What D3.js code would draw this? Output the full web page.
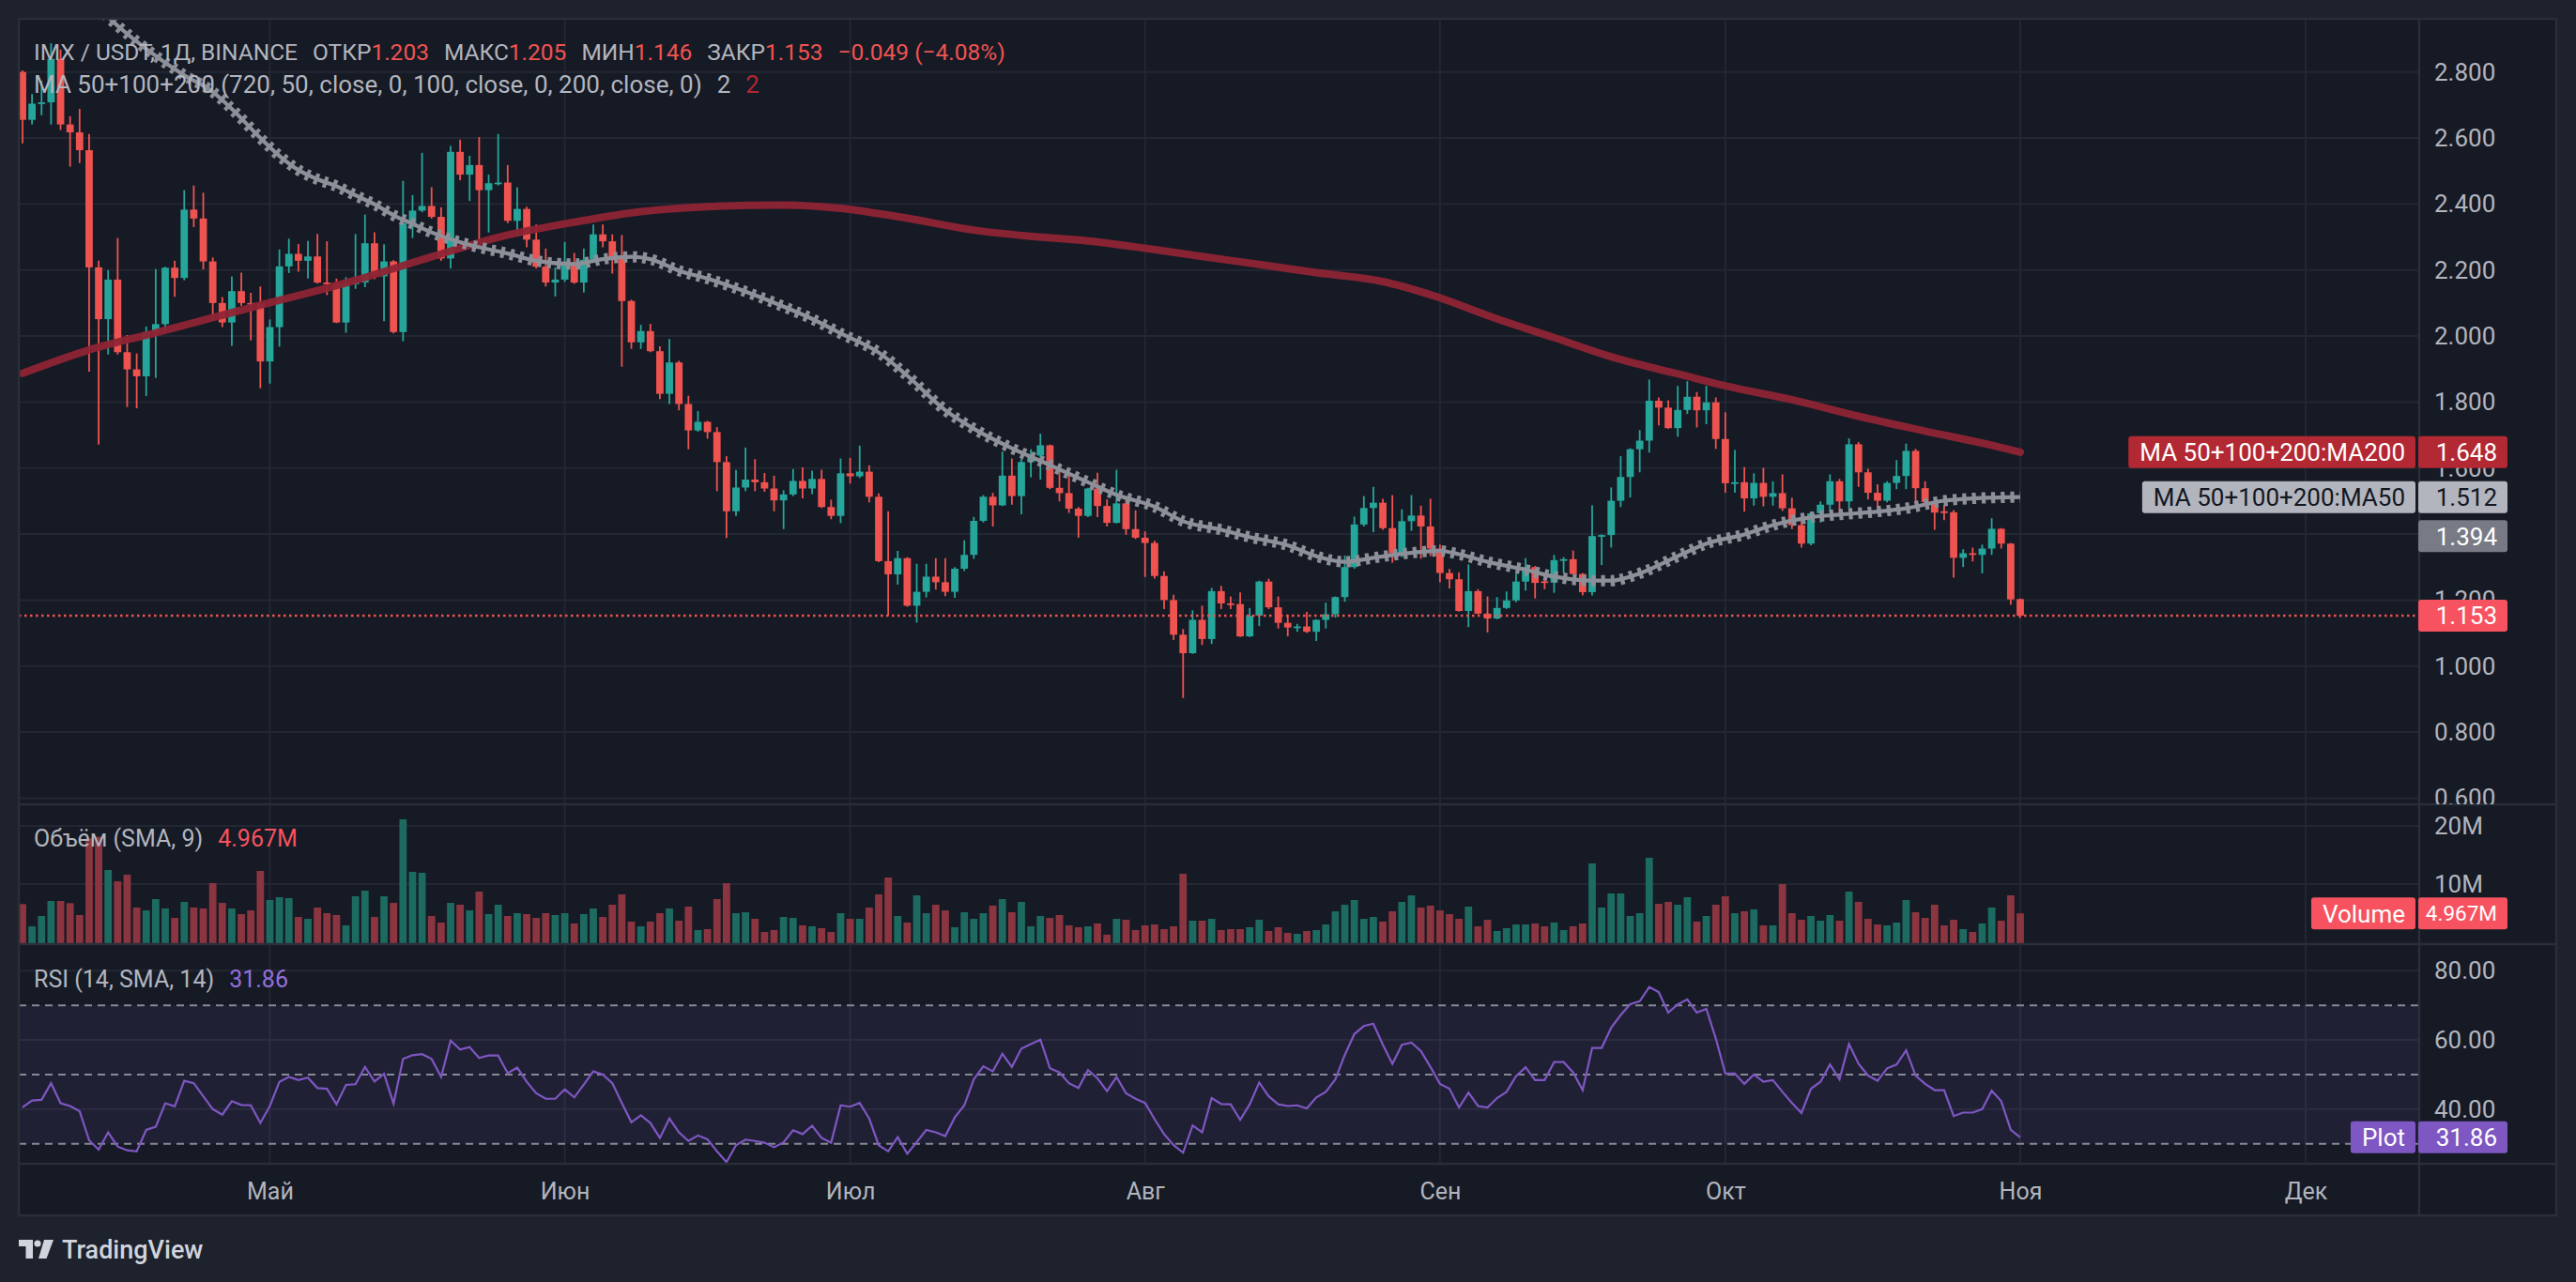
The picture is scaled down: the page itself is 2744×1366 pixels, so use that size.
<!DOCTYPE html>
<html>
<head>
<meta charset="utf-8">
<title>IMX / USDT, 1Д, BINANCE</title>
<script src="https://cdn.jsdelivr.net/npm/d3@7/dist/d3.min.js"></script>
<style>
  html, body { margin: 0; padding: 0; background: #1e222d; }
  svg { display: block; font-family: Roboto, "Noto Sans", sans-serif; }
</style>
</head>
<body>
<div id="chart"></div>
<script>
// daily candles from 5 Apr 2024 to 1 Nov 2024 (211 days)
const firstDay = new Date(Date.UTC(2024, 3, 5))

const opens = [
  2.800, 2.655, 2.704, 2.708, 2.840, 2.641, 2.617, 2.563, 2.208, 2.051,
  2.171, 1.951, 1.899, 1.878, 2.012, 2.036, 2.207, 2.176, 2.383, 2.356,
  2.226, 2.100, 2.041, 2.136, 2.100, 2.098, 1.923, 2.027, 2.211, 2.249,
  2.228, 2.241, 2.162, 2.159, 2.041, 2.157, 2.162, 2.281, 2.181, 2.226,
  2.012, 2.342, 2.380, 2.394, 2.361, 2.235, 2.558, 2.489, 2.518, 2.442,
  2.463, 2.465, 2.349, 2.385, 2.292, 2.210, 2.162, 2.171, 2.218, 2.162,
  2.231, 2.308, 2.287, 2.238, 2.106, 1.981, 2.015, 1.954, 1.825, 1.920,
  1.794, 1.714, 1.740, 1.709, 1.618, 1.469, 1.541, 1.565, 1.557, 1.538,
  1.502, 1.520, 1.561, 1.538, 1.567, 1.482, 1.455, 1.584, 1.575, 1.589,
  1.513, 1.318, 1.278, 1.327, 1.183, 1.225, 1.271, 1.254, 1.225, 1.295,
  1.337, 1.440, 1.513, 1.487, 1.577, 1.515, 1.618, 1.638, 1.669, 1.540,
  1.524, 1.477, 1.455, 1.538, 1.485, 1.434, 1.493, 1.415, 1.389, 1.373,
  1.273, 1.200, 1.095, 1.039, 1.140, 1.082, 1.227, 1.190, 1.188, 1.090,
  1.153, 1.256, 1.178, 1.131, 1.117, 1.120, 1.104, 1.140, 1.157, 1.209,
  1.300, 1.429, 1.479, 1.495, 1.418, 1.342, 1.439, 1.456, 1.423, 1.356,
  1.282, 1.263, 1.167, 1.227, 1.159, 1.144, 1.176, 1.199, 1.256, 1.300,
  1.257, 1.253, 1.321, 1.324, 1.279, 1.224, 1.394, 1.397, 1.501, 1.573,
  1.657, 1.683, 1.804, 1.783, 1.721, 1.776, 1.816, 1.775, 1.799, 1.688,
  1.554, 1.557, 1.508, 1.555, 1.513, 1.524, 1.478, 1.427, 1.371, 1.463,
  1.489, 1.560, 1.499, 1.672, 1.587, 1.525, 1.501, 1.555, 1.576, 1.652,
  1.539, 1.497, 1.469, 1.466, 1.328, 1.342, 1.337, 1.356, 1.416, 1.371, 1.203
]
const highs = [
  2.805, 2.733, 2.773, 2.887, 2.868, 2.666, 2.688, 2.612, 2.228, 2.200,
  2.297, 2.003, 1.947, 2.029, 2.203, 2.210, 2.228, 2.442, 2.456, 2.434,
  2.238, 2.118, 2.181, 2.192, 2.131, 2.150, 2.050, 2.262, 2.295, 2.279,
  2.288, 2.309, 2.287, 2.174, 2.178, 2.309, 2.368, 2.314, 2.278, 2.230,
  2.470, 2.427, 2.555, 2.451, 2.390, 2.576, 2.595, 2.546, 2.603, 2.489,
  2.612, 2.518, 2.451, 2.392, 2.338, 2.265, 2.208, 2.285, 2.252, 2.265,
  2.338, 2.338, 2.308, 2.306, 2.110, 2.034, 2.037, 1.969, 1.991, 1.925,
  1.819, 1.773, 1.743, 1.724, 1.636, 1.594, 1.662, 1.627, 1.585, 1.577,
  1.533, 1.597, 1.602, 1.592, 1.595, 1.504, 1.629, 1.631, 1.668, 1.608,
  1.523, 1.469, 1.349, 1.330, 1.310, 1.310, 1.327, 1.327, 1.300, 1.381,
  1.452, 1.518, 1.525, 1.650, 1.629, 1.629, 1.657, 1.704, 1.671, 1.602,
  1.586, 1.482, 1.540, 1.586, 1.505, 1.595, 1.515, 1.472, 1.408, 1.380,
  1.287, 1.216, 1.112, 1.169, 1.183, 1.237, 1.243, 1.211, 1.223, 1.176,
  1.259, 1.265, 1.211, 1.155, 1.128, 1.164, 1.142, 1.192, 1.211, 1.335,
  1.453, 1.515, 1.543, 1.507, 1.518, 1.475, 1.518, 1.486, 1.507, 1.368,
  1.294, 1.284, 1.308, 1.233, 1.211, 1.209, 1.226, 1.280, 1.327, 1.303,
  1.278, 1.337, 1.330, 1.350, 1.282, 1.487, 1.399, 1.541, 1.636, 1.660,
  1.715, 1.868, 1.814, 1.805, 1.849, 1.863, 1.830, 1.849, 1.814, 1.769,
  1.655, 1.603, 1.584, 1.601, 1.560, 1.581, 1.510, 1.448, 1.465, 1.499,
  1.581, 1.567, 1.690, 1.679, 1.598, 1.551, 1.560, 1.624, 1.674, 1.658,
  1.560, 1.508, 1.489, 1.473, 1.354, 1.359, 1.368, 1.448, 1.418, 1.373, 1.205
]
const lows = [
  2.584, 2.641, 2.669, 2.641, 2.624, 2.513, 2.524, 1.892, 1.671, 1.944,
  1.944, 1.785, 1.781, 1.818, 1.873, 2.013, 2.119, 2.169, 2.330, 2.202,
  2.048, 2.027, 1.970, 2.091, 1.987, 1.842, 1.856, 1.968, 2.191, 2.195,
  2.174, 2.159, 2.124, 2.039, 2.010, 2.143, 2.148, 2.172, 2.045, 2.008,
  1.984, 2.297, 2.375, 2.356, 2.228, 2.205, 2.472, 2.409, 2.288, 2.314,
  2.456, 2.342, 2.302, 2.269, 2.205, 2.150, 2.120, 2.164, 2.158, 2.132,
  2.225, 2.269, 2.189, 1.907, 1.961, 1.961, 1.951, 1.809, 1.794, 1.775,
  1.657, 1.710, 1.689, 1.530, 1.388, 1.455, 1.530, 1.530, 1.528, 1.469,
  1.415, 1.515, 1.508, 1.521, 1.479, 1.445, 1.433, 1.553, 1.570, 1.496,
  1.315, 1.153, 1.247, 1.180, 1.132, 1.208, 1.232, 1.212, 1.207, 1.288,
  1.325, 1.435, 1.423, 1.485, 1.489, 1.460, 1.572, 1.565, 1.536, 1.499,
  1.464, 1.389, 1.451, 1.451, 1.423, 1.432, 1.398, 1.385, 1.270, 1.265,
  1.173, 1.079, 0.903, 1.037, 1.064, 1.067, 1.173, 1.173, 1.088, 1.088,
  1.121, 1.173, 1.114, 1.090, 1.104, 1.100, 1.076, 1.114, 1.147, 1.195,
  1.295, 1.423, 1.406, 1.413, 1.313, 1.330, 1.410, 1.325, 1.333, 1.254,
  1.235, 1.165, 1.118, 1.157, 1.102, 1.142, 1.173, 1.193, 1.229, 1.205,
  1.233, 1.222, 1.281, 1.276, 1.214, 1.214, 1.306, 1.359, 1.482, 1.511,
  1.587, 1.647, 1.729, 1.719, 1.695, 1.764, 1.723, 1.733, 1.658, 1.525,
  1.525, 1.468, 1.486, 1.484, 1.486, 1.470, 1.415, 1.359, 1.366, 1.435,
  1.470, 1.461, 1.478, 1.543, 1.505, 1.464, 1.496, 1.536, 1.536, 1.487,
  1.486, 1.413, 1.442, 1.268, 1.300, 1.317, 1.281, 1.337, 1.356, 1.186, 1.146
]
const closes = [
  2.655, 2.704, 2.708, 2.840, 2.641, 2.617, 2.563, 2.208, 2.051, 2.171,
  1.951, 1.899, 1.878, 2.012, 2.036, 2.207, 2.176, 2.383, 2.356, 2.226,
  2.100, 2.041, 2.136, 2.100, 2.098, 1.923, 2.027, 2.211, 2.249, 2.228,
  2.241, 2.162, 2.159, 2.041, 2.157, 2.162, 2.281, 2.181, 2.226, 2.012,
  2.342, 2.380, 2.394, 2.361, 2.235, 2.558, 2.489, 2.518, 2.442, 2.463,
  2.465, 2.349, 2.385, 2.292, 2.210, 2.162, 2.171, 2.218, 2.162, 2.231,
  2.308, 2.287, 2.238, 2.106, 1.981, 2.015, 1.954, 1.825, 1.920, 1.794,
  1.714, 1.740, 1.709, 1.618, 1.469, 1.541, 1.565, 1.557, 1.538, 1.502,
  1.520, 1.561, 1.538, 1.567, 1.482, 1.455, 1.584, 1.575, 1.589, 1.513,
  1.318, 1.278, 1.327, 1.183, 1.225, 1.271, 1.254, 1.225, 1.295, 1.337,
  1.440, 1.513, 1.487, 1.577, 1.515, 1.618, 1.638, 1.669, 1.540, 1.524,
  1.477, 1.455, 1.538, 1.485, 1.434, 1.493, 1.415, 1.389, 1.373, 1.273,
  1.200, 1.095, 1.039, 1.140, 1.082, 1.227, 1.190, 1.188, 1.090, 1.153,
  1.256, 1.178, 1.131, 1.117, 1.120, 1.104, 1.140, 1.157, 1.209, 1.300,
  1.429, 1.479, 1.495, 1.418, 1.342, 1.439, 1.456, 1.423, 1.356, 1.282,
  1.263, 1.167, 1.227, 1.159, 1.144, 1.176, 1.199, 1.256, 1.300, 1.252,
  1.253, 1.321, 1.324, 1.279, 1.224, 1.394, 1.397, 1.501, 1.573, 1.657,
  1.683, 1.804, 1.783, 1.721, 1.776, 1.816, 1.775, 1.799, 1.688, 1.554,
  1.557, 1.508, 1.555, 1.513, 1.524, 1.478, 1.427, 1.371, 1.463, 1.489,
  1.560, 1.499, 1.672, 1.587, 1.525, 1.501, 1.555, 1.576, 1.652, 1.539,
  1.497, 1.465, 1.466, 1.328, 1.342, 1.337, 1.356, 1.416, 1.371, 1.202, 1.153
]

// volume, millions
const volumes = [
  6.56, 2.74, 4.52, 7.10, 7.10, 6.72, 4.68, 17.85, 18.12, 12.42,
  10.48, 11.61, 5.97, 5.48, 7.42, 5.81, 4.19, 6.94, 5.97, 5.81,
  10.16, 6.77, 5.81, 4.84, 5.48, 12.26, 7.26, 7.74, 7.58, 4.35,
  4.03, 5.97, 5.00, 4.68, 2.90, 7.90, 8.87, 4.35, 7.90, 6.77,
  21.13, 12.10, 11.94, 4.52, 3.39, 6.77, 6.45, 5.48, 8.71, 4.84,
  6.45, 4.52, 5.00, 4.84, 4.19, 5.00, 4.68, 5.00, 3.23, 4.84,
  5.81, 4.35, 6.45, 8.23, 3.55, 2.74, 3.55, 5.00, 5.81, 3.71,
  6.13, 2.10, 2.26, 7.42, 10.16, 5.00, 5.16, 4.03, 1.77, 2.10,
  4.35, 4.19, 2.90, 2.74, 2.42, 1.77, 5.00, 4.03, 4.03, 5.97,
  8.23, 11.13, 4.52, 3.39, 8.06, 5.00, 6.45, 5.48, 2.58, 5.16,
  4.03, 5.00, 6.29, 7.42, 5.16, 6.94, 2.74, 4.52, 4.19, 4.68,
  2.90, 2.58, 2.74, 3.23, 1.30, 4.03, 3.87, 2.10, 2.90, 3.06,
  2.26, 2.74, 11.77, 3.71, 3.71, 4.03, 2.10, 2.26, 2.26, 2.58,
  3.87, 1.94, 2.58, 1.61, 1.45, 1.94, 2.10, 3.06, 5.32, 6.45,
  7.26, 4.03, 4.35, 3.55, 5.32, 6.94, 8.06, 5.97, 6.29, 5.48,
  4.84, 4.03, 6.13, 2.74, 3.87, 1.94, 2.42, 3.06, 3.06, 3.23,
  2.74, 3.39, 2.10, 2.74, 3.23, 13.55, 5.97, 8.39, 8.39, 4.52,
  5.00, 14.52, 6.61, 6.94, 6.45, 7.74, 3.55, 4.52, 6.45, 7.90,
  5.00, 5.32, 5.65, 2.90, 2.90, 10.00, 5.00, 3.87, 4.52, 3.71,
  4.68, 3.71, 8.71, 6.94, 4.03, 3.06, 2.90, 3.39, 7.26, 5.16,
  4.19, 6.45, 2.90, 3.87, 2.26, 1.77, 3.23, 5.97, 3.71, 8.06, 4.967
]

const rsi = [
  40.5, 42.5, 42.7, 47.5, 41.7, 40.9, 39.4, 31.0, 28.3, 33.3,
  29.2, 28.1, 27.8, 34.0, 34.9, 41.7, 40.8, 48.2, 47.5, 43.7,
  40.0, 38.4, 42.3, 41.2, 41.1, 36.0, 40.9, 47.9, 49.3, 48.4,
  49.1, 46.1, 45.9, 41.4, 47.0, 47.2, 52.2, 48.0, 50.2, 41.6,
  54.5, 55.6, 55.9, 54.5, 49.3, 59.8, 57.2, 57.9, 54.8, 55.5,
  55.5, 50.4, 52.0, 47.9, 44.6, 43.0, 43.0, 45.7, 43.4, 47.1,
  50.9, 50.0, 47.5, 41.8, 36.2, 38.2, 36.0, 31.7, 37.3, 33.3,
  30.8, 32.4, 31.3, 27.8, 24.7, 29.6, 31.2, 30.8, 30.3, 29.0,
  30.4, 33.9, 32.8, 35.2, 31.7, 30.3, 41.1, 40.7, 41.8, 37.3,
  29.6, 27.8, 31.9, 27.1, 30.5, 34.0, 33.3, 32.2, 37.6, 41.1,
  48.6, 52.4, 50.9, 56.0, 52.2, 57.5, 58.8, 60.1, 51.8, 50.6,
  47.5, 46.1, 51.3, 48.9, 45.2, 49.3, 44.6, 43.0, 41.8, 37.1,
  32.8, 29.6, 27.4, 35.3, 33.3, 43.2, 41.5, 41.4, 36.9, 41.4,
  47.7, 43.7, 41.4, 40.9, 41.1, 40.2, 43.4, 45.0, 48.6, 55.7,
  61.7, 64.0, 64.7, 58.6, 53.1, 58.6, 59.2, 56.8, 52.2, 47.3,
  45.9, 40.5, 44.8, 40.9, 40.5, 43.2, 45.0, 49.5, 52.1, 48.4,
  48.4, 53.6, 53.6, 50.6, 45.5, 57.7, 57.7, 63.5, 67.2, 70.3,
  71.2, 75.3, 73.8, 67.9, 70.3, 71.7, 67.9, 69.0, 60.4, 50.3,
  50.3, 47.3, 50.0, 47.9, 48.4, 45.0, 41.8, 38.9, 45.9, 47.9,
  52.9, 48.6, 58.8, 53.1, 49.7, 48.2, 51.8, 52.9, 57.0, 49.7,
  47.3, 45.5, 45.5, 38.0, 39.0, 39.0, 40.0, 45.3, 42.3, 34.0, 31.86
]

// moving averages at these day numbers (0 = 5 Apr)
const ma50Day = [0, 5, 10, 13, 17, 20, 22, 25, 27, 29, 31, 33, 35, 37, 39, 41, 43, 47, 51,
  54, 58, 61, 64, 66, 69, 72, 75, 79, 83, 86, 90, 93, 97, 100, 104, 108, 112, 115, 119,
  122, 126, 129, 133, 136, 139, 142, 145, 149, 151, 154, 158, 161, 165, 167, 170, 174,
  177, 181, 184, 188, 191, 195, 198, 202, 205, 210]
const ma50 = [3.22, 3.08, 2.94, 2.87, 2.79, 2.74, 2.688, 2.60, 2.546, 2.503, 2.475, 2.454,
  2.426, 2.399, 2.366, 2.340, 2.314, 2.276, 2.250, 2.228, 2.218, 2.233, 2.240, 2.233,
  2.198, 2.174, 2.145, 2.101, 2.052, 2.008, 1.950, 1.880, 1.775, 1.719, 1.660, 1.609,
  1.557, 1.519, 1.483, 1.439, 1.413, 1.391, 1.366, 1.333, 1.316, 1.328, 1.340, 1.349,
  1.339, 1.316, 1.292, 1.271, 1.259, 1.259, 1.281, 1.333, 1.371, 1.399, 1.427, 1.451,
  1.459, 1.468, 1.478, 1.501, 1.508, 1.512]
const ma200Day = [0, 7, 14, 24, 35, 43, 51, 58, 65, 72, 80, 86, 93, 100, 106, 112, 118,
  124, 130, 136, 143, 148, 155, 161, 167, 175, 179, 186, 193, 200, 207, 210]
const ma200 = [1.887, 1.958, 2.010, 2.086, 2.169, 2.240, 2.306, 2.345, 2.377, 2.392,
  2.397, 2.387, 2.357, 2.321, 2.302, 2.288, 2.266, 2.241, 2.217, 2.192, 2.165, 2.125,
  2.052, 1.995, 1.937, 1.878, 1.849, 1.807, 1.757, 1.712, 1.669, 1.648]
const ma100Last = 1.394

const priceTicks = [0.6, 0.8, 1.0, 1.2, 1.4, 1.6, 1.8, 2.0, 2.2, 2.4, 2.6, 2.8]
const volTicks = [10, 20]
const rsiTicks = [40, 60, 80]
const rsiLevels = [30, 50, 70]
const monthNames = ['Май', 'Июн', 'Июл', 'Авг', 'Сен', 'Окт', 'Ноя', 'Дек']
const monthStarts = monthNames.map((m, i) => new Date(Date.UTC(2024, 4 + i, 1)))

// ---- layout
const W = 2744, H = 1366
const left = 20, plotR = 2577, axisR = 2723
const mainTop = 20, mainBot = 857, volBot = 1006, rsiBot = 1240, timeBot = 1295

const upCol = '#26a69a', downCol = '#ef5350'
const gridCol = '#232733', lineCol = '#2a2e39', textCol = '#b2b5be'

const dates = d3.utcDay.range(firstDay, d3.utcDay.offset(firstDay, opens.length))
const candles = dates.map((d, i) => ({
  date: d, o: opens[i], h: highs[i], l: lows[i], c: closes[i], v: volumes[i], r: rsi[i]
}))
const last = candles[candles.length - 1]
const prev = candles[candles.length - 2]

const x = d3.scaleUtc().domain([dates[0], dates[dates.length - 1]]).range([24, 2152])
const y = d3.scaleLinear().domain([0.6, 2.8]).range([850.4, 76.7])
const yVol = d3.scaleLinear().domain([0, 20]).range([1004, 880])
const yRsi = d3.scaleLinear().domain([30, 80]).range([1218.7, 1034.3])
const fmt3 = d3.format('.3f')
const fmt2 = d3.format('.2f')

const svg = d3.select('#chart').append('svg').attr('width', W).attr('height', H)

svg.append('rect').attr('width', W).attr('height', H).attr('fill', '#1e222d')
svg.append('rect')
  .attr('x', left).attr('y', mainTop)
  .attr('width', axisR - left).attr('height', timeBot - mainTop)
  .attr('fill', '#161a25')

const defs = svg.append('defs')
function clip(id, x0, y0, x1, y1) {
  defs.append('clipPath').attr('id', id).append('rect')
    .attr('x', x0).attr('y', y0).attr('width', x1 - x0).attr('height', y1 - y0)
}
clip('cMain', left, mainTop, plotR, mainBot)
clip('cVol', left, mainBot, plotR, volBot)
clip('cRsi', left, volBot, plotR, rsiBot)
clip('aMain', plotR, mainTop, axisR, mainBot)
clip('aVol', plotR, mainBot, axisR, volBot)
clip('aRsi', plotR, volBot, axisR, rsiBot)

// ---- grid
const grid = svg.append('g').attr('stroke', gridCol).attr('stroke-width', 2)
grid.selectAll('line.v').data(monthStarts).join('line')
  .attr('x1', d => x(d)).attr('x2', d => x(d))
  .attr('y1', mainTop).attr('y2', rsiBot)
grid.append('g').attr('clip-path', 'url(#cMain)')
  .selectAll('line').data(priceTicks).join('line')
  .attr('x1', left).attr('x2', plotR).attr('y1', d => y(d)).attr('y2', d => y(d))
grid.append('g').selectAll('line').data(volTicks).join('line')
  .attr('x1', left).attr('x2', plotR).attr('y1', d => yVol(d)).attr('y2', d => yVol(d))
grid.append('g').selectAll('line').data(rsiTicks).join('line')
  .attr('x1', left).attr('x2', plotR).attr('y1', d => yRsi(d)).attr('y2', d => yRsi(d))

// ---- RSI band and levels
svg.append('rect')
  .attr('x', left).attr('width', plotR - left)
  .attr('y', yRsi(70)).attr('height', yRsi(30) - yRsi(70))
  .attr('fill', 'rgba(126,87,194,0.1)')
svg.append('g').selectAll('line').data(rsiLevels).join('line')
  .attr('x1', left).attr('x2', plotR)
  .attr('y1', d => yRsi(d)).attr('y2', d => yRsi(d))
  .attr('stroke', '#868993').attr('stroke-width', 2).attr('stroke-dasharray', '8 6')

// ---- volume
svg.append('g').attr('clip-path', 'url(#cVol)')
  .selectAll('rect').data(candles).join('rect')
  .attr('x', d => x(d.date) - 3.9).attr('width', 7.8)
  .attr('y', d => yVol(d.v)).attr('height', d => yVol(0) - yVol(d.v) + 2)
  .attr('fill', d => d.c >= d.o ? '#1c6a60' : '#8a3540')

// ---- candles
const gMain = svg.append('g').attr('clip-path', 'url(#cMain)')
gMain.append('g').selectAll('line').data(candles).join('line')
  .attr('x1', d => x(d.date)).attr('x2', d => x(d.date))
  .attr('y1', d => y(d.h)).attr('y2', d => y(d.l))
  .attr('stroke', d => d.c >= d.o ? upCol : downCol)
  .attr('stroke-width', 1.8)
gMain.append('g').selectAll('rect').data(candles).join('rect')
  .attr('x', d => x(d.date) - 3.9).attr('width', 7.8)
  .attr('y', d => y(Math.max(d.o, d.c)))
  .attr('height', d => Math.max(1.8, Math.abs(y(d.o) - y(d.c))))
  .attr('fill', d => d.c >= d.o ? upCol : downCol)

// ---- moving averages
const maLine = d3.line()
  .x(d => x(d[0])).y(d => y(d[1]))
  .curve(d3.curveMonotoneX)
const ma200Pts = ma200Day.map((k, j) => [dates[k], ma200[j]])
const ma50Pts = ma50Day.map((k, j) => [dates[k], ma50[j]])

gMain.append('path').attr('d', maLine(ma200Pts))
  .attr('fill', 'none').attr('stroke', '#8e2434').attr('stroke-width', 8)
  .attr('stroke-linecap', 'round').attr('opacity', 0.95)
// MA50 drawn as a chain of "+" marks: a bar plus short thick dashes
gMain.append('path').attr('d', maLine(ma50Pts))
  .attr('fill', 'none').attr('stroke', '#8d9099').attr('stroke-width', 4.2)
gMain.append('path').attr('d', maLine(ma50Pts))
  .attr('fill', 'none').attr('stroke', '#8d9099').attr('stroke-width', 12)
  .attr('stroke-dasharray', '4.2 6')

// last price line
gMain.append('line')
  .attr('x1', left).attr('x2', plotR)
  .attr('y1', y(last.c)).attr('y2', y(last.c))
  .attr('stroke', downCol).attr('stroke-width', 2.5).attr('stroke-dasharray', '2.5 3.5')

// RSI line
svg.append('g').attr('clip-path', 'url(#cRsi)').append('path')
  .datum(candles)
  .attr('d', d3.line().x(d => x(d.date)).y(d => yRsi(d.r)))
  .attr('fill', 'none').attr('stroke', '#7e57c2').attr('stroke-width', 2.2)

// ---- pane borders
const borders = svg.append('g').attr('stroke', lineCol).attr('stroke-width', 2.5)
borders.append('rect')
  .attr('x', left).attr('y', mainTop)
  .attr('width', axisR - left).attr('height', timeBot - mainTop)
  .attr('fill', 'none')
borders.selectAll('line.h').data([mainBot, volBot, rsiBot]).join('line')
  .attr('x1', left).attr('x2', axisR).attr('y1', d => d).attr('y2', d => d)
borders.append('line').attr('x1', plotR).attr('x2', plotR).attr('y1', mainTop).attr('y2', timeBot)

// ---- axes
function styleAxis(g) {
  g.select('.domain').remove()
  g.selectAll('text').attr('fill', textCol).attr('font-size', 26)
    .attr('font-family', 'Roboto, "Noto Sans", sans-serif')
}
svg.append('g').attr('clip-path', 'url(#aMain)').append('g')
  .attr('transform', `translate(${plotR},0)`)
  .call(d3.axisRight(y).tickValues(priceTicks).tickFormat(fmt3).tickSize(0).tickPadding(16))
  .call(styleAxis)
svg.append('g').attr('clip-path', 'url(#aVol)').append('g')
  .attr('transform', `translate(${plotR},0)`)
  .call(d3.axisRight(yVol).tickValues(volTicks).tickFormat(d => d + 'M').tickSize(0).tickPadding(16))
  .call(styleAxis)
svg.append('g').attr('clip-path', 'url(#aRsi)').append('g')
  .attr('transform', `translate(${plotR},0)`)
  .call(d3.axisRight(yRsi).tickValues(rsiTicks).tickFormat(fmt2).tickSize(0).tickPadding(16))
  .call(styleAxis)
svg.append('g')
  .attr('transform', `translate(0,${rsiBot})`)
  .call(d3.axisBottom(x).tickValues(monthStarts).tickFormat((d, i) => monthNames[i]).tickSize(0))
  .call(styleAxis)
  .call(g => g.selectAll('text').attr('y', 38).attr('dy', 0).attr('font-size', 25))

// ---- legends
function legend(yBase, size, parts) {
  const t = svg.append('text').attr('x', 36).attr('y', yBase).attr('font-size', size)
  parts.forEach(p => {
    t.append('tspan').attr('dx', p.gap || 0).attr('fill', p.color || textCol).text(p.text)
  })
  return t
}
const chg = last.c - prev.c
legend(64, 24.5, [
  { text: 'IMX / USDT, 1Д, BINANCE' },
  { text: 'ОТКР', gap: 16 }, { text: fmt3(last.o), color: downCol },
  { text: 'МАКС', gap: 16 }, { text: fmt3(last.h), color: downCol },
  { text: 'МИН', gap: 16 }, { text: fmt3(last.l), color: downCol },
  { text: 'ЗАКР', gap: 16 }, { text: fmt3(last.c), color: downCol },
  { text: '−' + fmt3(Math.abs(chg)) + ' (−' + fmt2(Math.abs(chg / prev.c) * 100) + '%)', gap: 16, color: downCol }
])
legend(99, 26, [
  { text: 'MA 50+100+200 (720, 50, close, 0, 100, close, 0, 200, close, 0)' },
  { text: '2', gap: 16 },
  { text: '2', gap: 16, color: '#b22833' }
])
legend(902, 25, [
  { text: 'Объём (SMA, 9)' },
  { text: d3.format('.3f')(last.v) + 'M', gap: 16, color: '#f7525f' }
])
legend(1052, 25, [
  { text: 'RSI (14, SMA, 14)' },
  { text: fmt2(last.r), gap: 16, color: '#9470dc' }
])

// ---- price scale badges
const badges = svg.append('g').attr('font-size', 26)
function valueBadge(yc, fill, txt, txtFill, size) {
  badges.append('rect').attr('x', plotR - 1).attr('y', yc - 17)
    .attr('width', 95).attr('height', 34).attr('rx', 3).attr('fill', fill)
  badges.append('text').attr('x', 2660).attr('y', yc).attr('dy', '0.36em')
    .attr('text-anchor', 'end').attr('fill', txtFill)
    .attr('font-size', size || 26).text(txt)
}
function nameBadge(yc, fill, txt, txtFill) {
  const t = badges.append('text').attr('x', 2562).attr('y', yc).attr('dy', '0.36em')
    .attr('text-anchor', 'end').attr('fill', txtFill).text(txt)
  const w = t.node().getComputedTextLength()
  badges.insert('rect', () => t.node())
    .attr('x', 2562 - w - 12).attr('y', yc - 17)
    .attr('width', w + 12 + 11).attr('height', 34).attr('rx', 3).attr('fill', fill)
}
nameBadge(y(ma200[ma200.length - 1]), '#b22833', 'MA 50+100+200:MA200', '#ffffff')
valueBadge(y(ma200[ma200.length - 1]), '#b22833', fmt3(ma200[ma200.length - 1]), '#ffffff')
nameBadge(y(ma50[ma50.length - 1]), '#b2b5be', 'MA 50+100+200:MA50', '#131722')
valueBadge(y(ma50[ma50.length - 1]), '#b2b5be', fmt3(ma50[ma50.length - 1]), '#131722')
valueBadge(y(ma100Last), '#787b86', fmt3(ma100Last), '#ffffff')
valueBadge(y(last.c), '#f7525f', fmt3(last.c), '#ffffff')
nameBadge(yVol(last.v), '#f7525f', 'Volume', '#ffffff')
valueBadge(yVol(last.v), '#f7525f', d3.format('.3f')(last.v) + 'M', '#ffffff', 22.5)
nameBadge(yRsi(last.r), '#7e57c2', 'Plot', '#ffffff')
valueBadge(yRsi(last.r), '#7e57c2', fmt2(last.r), '#ffffff')

// ---- TradingView logo
const logo = svg.append('g').attr('fill', '#d1d4dc')
logo.append('path').attr('d', 'M20 1321 H35 V1341 H27.5 V1328 H20 Z')
logo.append('circle').attr('cx', 40).attr('cy', 1325).attr('r', 3.6)
logo.append('path').attr('d', 'M47 1321 H57 L49.5 1341 H41 Z')
logo.append('text').attr('x', 66).attr('y', 1341).attr('font-size', 27)
  .attr('font-weight', 500).text('TradingView')
</script>
</body>
</html>
